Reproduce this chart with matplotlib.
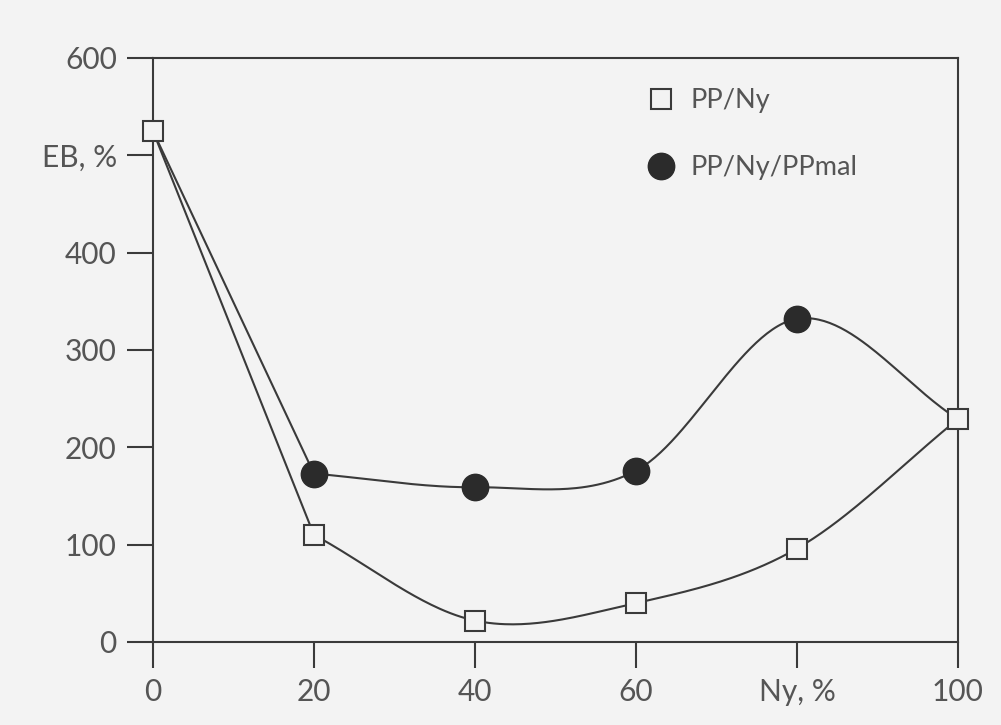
import numpy as np
import matplotlib.pyplot as plt

ny = [0, 20, 40, 60, 80, 100]
pp_ny = [525, 110, 22, 40, 96, 229]
pp_ny_ppmal = [525, 173, 159, 176, 332, 229]
yticks = [0, 100, 200, 300, 400, 500, 600]
yticklabels = ['0', '100', '200', '300', '400', 'EB, %', '600']
xticks = [0, 20, 40, 60, 80, 100]
xticklabels = ['0', '20', '40', '60', 'Ny, %', '100']


def smooth(x, y, n=60):
    # Catmull-Rom style hermite curve through the points
    x = np.asarray(x, float)
    y = np.asarray(y, float)
    m = np.zeros_like(y)
    m[0] = (y[1] - y[0]) / (x[1] - x[0])
    m[-1] = (y[-1] - y[-2]) / (x[-1] - x[-2])
    m[1:-1] = (y[2:] - y[:-2]) / (x[2:] - x[:-2])
    xs, ys = [], []
    for i in range(len(x) - 1):
        h = x[i + 1] - x[i]
        t = np.linspace(0, 1, n)
        h00 = 2 * t**3 - 3 * t**2 + 1
        h10 = t**3 - 2 * t**2 + t
        h01 = -2 * t**3 + 3 * t**2
        h11 = t**3 - t**2
        xs.append(x[i] + h * t)
        ys.append(h00 * y[i] + h10 * h * m[i] + h01 * y[i + 1] + h11 * h * m[i + 1])
    return np.concatenate(xs), np.concatenate(ys)


plt.rcParams['font.family'] = ['Lato', 'DejaVu Sans']
ink = '#3a3a3a'
txt = '#555555'
bg = '#f3f3f3'

fig = plt.figure(figsize=(10.01, 7.25), dpi=100, facecolor=bg)
ax = fig.add_axes([0.1528, 0.1145, 0.8042, 0.8055])
ax.set_facecolor(bg)

for vals in (pp_ny, pp_ny_ppmal):
    ax.plot(ny[:2], vals[:2], color=ink, lw=1.5, zorder=2)
    sx, sy = smooth(ny[1:], vals[1:])
    ax.plot(sx, sy, color=ink, lw=1.5, zorder=2)

ax.plot(ny[1:-1], pp_ny_ppmal[1:-1], 'o', color='#2b2b2b', ms=19, zorder=3,
        label='PP/Ny/PPmal', clip_on=False)
ax.plot(ny, pp_ny, 's', mfc=bg, mec=ink, mew=1.5, ms=14, zorder=4,
        label='PP/Ny', clip_on=False)

ax.set_xlim(0, 100)
ax.set_ylim(0, 600)
ax.set_xticks(xticks)
ax.set_xticklabels(xticklabels)
ax.set_yticks(yticks)
ax.set_yticklabels(yticklabels)
ax.tick_params(direction='out', length=19, width=1.5, color=ink,
               labelsize=21.5, labelcolor=txt, pad=7)
for s in ax.spines.values():
    s.set_color(ink)
    s.set_linewidth(1.5)

h, l = ax.get_legend_handles_labels()
leg = ax.legend(h[::-1], l[::-1], loc='upper left', bbox_to_anchor=(0.574, 0.99),
                frameon=False, fontsize=19.5, labelspacing=1.55, handletextpad=0.3,
                handlelength=1.6)
for t in leg.get_texts():
    t.set_color(txt)

fig.savefig('out.png', dpi=100, facecolor=fig.get_facecolor())
